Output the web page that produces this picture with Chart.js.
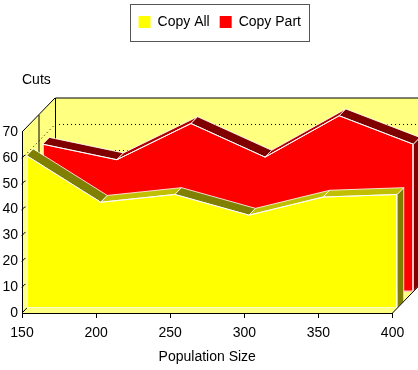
<!DOCTYPE html>
<html><head><meta charset="utf-8">
<script src="https://cdn.jsdelivr.net/npm/chart.js@4/dist/chart.umd.min.js"></script>
<style>html,body{margin:0;padding:0;background:#fff;}canvas{display:block;}</style>
</head><body>
<canvas id="c" width="418" height="370"></canvas>
<script>
// ---- data ----
const populationSizes = [150, 200, 250, 300, 350, 400];
const copyAllCuts = [59, 41, 44, 36, 43, 44];
const copyPartCuts = [57, 51, 65, 52, 68, 57];
const xTickValues = [150, 200, 250, 300, 350, 400];
const yTickValues = [0, 10, 20, 30, 40, 50, 60, 70];
const seriesNames = ['Copy All', 'Copy Part'];
const yAxisTitle = 'Cuts';
const xAxisTitle = 'Population Size';

// ---- geometry / style (not data) ----
const FONT = "'Liberation Sans', Arial, sans-serif";
const DEPTH = {x: 33, y: -34};
const FRONT_W = 371, FRONT_H = 181;
const SLAB_T = 0.2;
const SLABS = [
  {f: 0.14, xId: 'xa', yId: 'ya', face: '#ffff00', rise: '#c0c000', fall: '#808000', side: '#808000'},
  {f: 0.63, xId: 'xb', yId: 'yb', face: '#ff0000', rise: '#b00000', fall: '#800000', side: '#800000'}
];
const WALL = '#ffff80';
const X0 = xTickValues[0], X1 = xTickValues[xTickValues.length - 1];
const Y0 = yTickValues[0], Y1 = yTickValues[yTickValues.length - 1];

Chart.defaults.font.family = FONT;
Chart.defaults.font.size = 14;
Chart.defaults.color = '#000';

function line(ctx, a, b, c, d) { ctx.beginPath(); ctx.moveTo(a, b); ctx.lineTo(c, d); ctx.stroke(); }
function poly(ctx, pts) { ctx.beginPath(); ctx.moveTo(pts[0][0], pts[0][1]); for (let i = 1; i < pts.length; i++) ctx.lineTo(pts[i][0], pts[i][1]); ctx.closePath(); }

function frame(chart) {
  const x = chart.scales.x, y = chart.scales.y;
  return {L: x.getPixelForValue(X0), R: x.getPixelForValue(X1), B: y.getPixelForValue(Y0), T: y.getPixelForValue(Y1), x, y};
}

const threeD = {
  id: 'threeD',
  beforeDatasetsDraw(chart) {
    const ctx = chart.ctx; const {L, R, B, T, y} = frame(chart);
    const dx = DEPTH.x, dy = DEPTH.y;
    ctx.save();
    ctx.fillStyle = WALL;
    ctx.fillRect(L + dx, T + dy, (R - L), (B - T));
    poly(ctx, [[L, T], [L + dx, T + dy], [L + dx, B + dy], [L, B]]); ctx.fill();
    poly(ctx, [[L, B], [R, B], [R + dx, B + dy], [L + dx, B + dy]]); ctx.fill();
    // dotted grid lines
    ctx.strokeStyle = '#000'; ctx.lineWidth = 1; ctx.setLineDash([1, 3]);
    yTickValues.forEach(v => {
      if (v === Y0 || v === Y1) return;
      const py = Math.round(y.getPixelForValue(v)) + 0.5;
      line(ctx, L + dx, py + dy, R + dx + 40, py + dy);
      line(ctx, L, py, L + dx, py + dy);
    });
    ctx.setLineDash([]);
    // wall edges
    line(ctx, L + dx + 0.5, T + dy, R + dx + 40, T + dy);
    line(ctx, L + dx + 0.5, T + dy, L + dx + 0.5, B + dy);
    line(ctx, L, T, L + dx, T + dy);
    line(ctx, L, B, L + dx, B + dy);
    line(ctx, L + dx / 2 + 0.5, T + dy / 2, L + dx / 2 + 0.5, B + dy / 2);
    ctx.restore();
  },
  beforeDatasetDraw(chart, args) {
    const st = SLABS[args.index]; const meta = args.meta; const pts = meta.data;
    const ctx = chart.ctx; const tx = SLAB_T * DEPTH.x, ty = SLAB_T * DEPTH.y;
    const y0 = meta.yScale.getPixelForValue(0);
    ctx.save();
    ctx.lineWidth = 1; ctx.strokeStyle = 'rgba(255,255,255,0.8)'; ctx.lineJoin = 'round';
    const last = pts[pts.length - 1];
    poly(ctx, [[last.x, last.y], [last.x + tx, last.y + ty], [last.x + tx, y0 + ty], [last.x, y0]]);
    ctx.fillStyle = st.side; ctx.fill(); ctx.stroke();
    for (let j = 0; j < pts.length - 1; j++) {
      const a = pts[j], b = pts[j + 1];
      poly(ctx, [[a.x, a.y], [b.x, b.y], [b.x + tx, b.y + ty], [a.x + tx, a.y + ty]]);
      ctx.fillStyle = b.y < a.y ? st.rise : st.fall; ctx.fill(); ctx.stroke();
    }
    ctx.restore();
  },
  afterDatasetDraw(chart, args) {
    const meta = args.meta; const pts = meta.data; const ctx = chart.ctx;
    const y0 = meta.yScale.getPixelForValue(0);
    ctx.save();
    ctx.strokeStyle = '#ffffff'; ctx.lineWidth = 1;
    ctx.beginPath();
    ctx.moveTo(pts[0].x + 0.5, pts[0].y); ctx.lineTo(pts[0].x + 0.5, y0 - 0.5);
    ctx.lineTo(pts[pts.length - 1].x - 0.5, y0 - 0.5); ctx.lineTo(pts[pts.length - 1].x - 0.5, pts[pts.length - 1].y);
    ctx.stroke();
    ctx.restore();
  },
  afterDatasetsDraw(chart) {
    const ctx = chart.ctx; const {L, R, B, T, y} = frame(chart);
    ctx.save();
    ctx.strokeStyle = '#000'; ctx.lineWidth = 1;
    line(ctx, Math.round(L) + 0.5, B, Math.round(L) + 0.5, T);
    line(ctx, L, Math.round(B) + 0.5, R, Math.round(B) + 0.5);
    line(ctx, R, B, R + DEPTH.x, B + DEPTH.y);
    yTickValues.forEach(v => {
      const py = y.getPixelForValue(v);
      line(ctx, L, py, L + 3, py - 3);
    });
    ctx.fillStyle = '#000'; ctx.font = '14px ' + FONT;
    ctx.textAlign = 'center'; ctx.textBaseline = 'middle';
    ctx.fillText(xAxisTitle, (L + R) / 2, 357);
    ctx.restore();
  },
  afterDraw(chart) {
    const hb = chart.legend && chart.legend.legendHitBoxes;
    if (!hb || !hb.length) return;
    const l = Math.min(...hb.map(h => h.left)) - 9;
    const r = Math.max(...hb.map(h => h.left + h.width)) + 8;
    const t = Math.min(...hb.map(h => h.top)) - 11;
    const b = Math.max(...hb.map(h => h.top + h.height)) + 12;
    const ctx = chart.ctx; ctx.save();
    ctx.strokeStyle = '#555'; ctx.lineWidth = 1;
    ctx.strokeRect(Math.round(l) + 0.5, Math.round(t) + 0.5, Math.round(r - l), Math.round(b - t));
    ctx.restore();
  }
};

const seriesValues = [copyAllCuts, copyPartCuts];
const datasets = seriesValues.map((vals, i) => ({
  label: seriesNames[i],
  data: populationSizes.map((p, j) => ({x: p, y: vals[j]})),
  xAxisID: SLABS[i].xId, yAxisID: SLABS[i].yId,
  backgroundColor: SLABS[i].face, borderColor: '#ffffff', borderWidth: 1,
  fill: 'origin', pointRadius: 0, tension: 0, order: i === 0 ? 1 : 2
}));

const hidden = (min, max) => ({type: 'linear', display: false, min, max});

const chart = new Chart(document.getElementById('c'), {
  type: 'line',
  data: {datasets},
  plugins: [threeD],
  options: {
    responsive: false, maintainAspectRatio: false, animation: false, events: [],
    layout: {padding: {top: 5, left: 0, right: 0, bottom: 0}},
    plugins: {
      tooltip: {enabled: false},
      legend: {
        position: 'top', fullSize: false,
        labels: {
          boxWidth: 12, boxHeight: 12, padding: 10, color: '#000', font: {size: 14},
          generateLabels: (c) => c.data.datasets.map((ds, i) => ({
            text: ds.label, fillStyle: ds.backgroundColor, strokeStyle: ds.backgroundColor,
            lineWidth: 0, hidden: false, datasetIndex: i, fontColor: '#000'
          }))
        }
      },
      title: {display: true, text: yAxisTitle, align: 'start', fullSize: false, weight: 500,
        color: '#000', font: {size: 14, weight: 'normal'}, padding: {top: 33, bottom: 0}}
    },
    scales: {
      x: {type: 'linear', position: 'bottom', min: X0, max: 417,
        afterBuildTicks: s => { s.ticks = xTickValues.map(v => ({value: v})); },
        afterFit: s => { s.height = 57; },
        grid: {display: true, drawOnChartArea: false, drawTicks: true, tickLength: 5, color: '#000'},
        border: {display: false},
        ticks: {padding: 7, maxRotation: 0, autoSkip: false, color: '#000', font: {size: 14}}
      },
      y: {type: 'linear', position: 'left', min: Y0, max: 83,
        afterBuildTicks: s => { s.ticks = yTickValues.map(v => ({value: v})); },
        afterFit: s => { s.width = 22; },
        grid: {display: false, drawTicks: false},
        border: {display: false},
        ticks: {padding: 4, autoSkip: false, color: '#000', font: {size: 14}}
      },
      xa: hidden(140, 400), ya: hidden(-2, 80),
      xb: hidden(130, 400), yb: hidden(-8, 75)
    }
  }
});

function fitScales(c) {
  const ca = c.chartArea; const sc = c.options.scales;
  const kx = FRONT_W / (X1 - X0), ky = FRONT_H / (Y1 - Y0);
  sc.x.min = X0; sc.x.max = X0 + (ca.right - ca.left) / kx;
  sc.y.min = Y0; sc.y.max = Y0 + (ca.bottom - ca.top) / ky;
  SLABS.forEach(s => {
    const ox = s.f * DEPTH.x, oy = s.f * DEPTH.y;
    sc[s.xId].min = sc.x.min - ox / kx; sc[s.xId].max = sc.x.max - ox / kx;
    sc[s.yId].min = sc.y.min + oy / ky; sc[s.yId].max = sc.y.max + oy / ky;
  });
}
fitScales(chart);
chart.update('none');
</script>
</body></html>
